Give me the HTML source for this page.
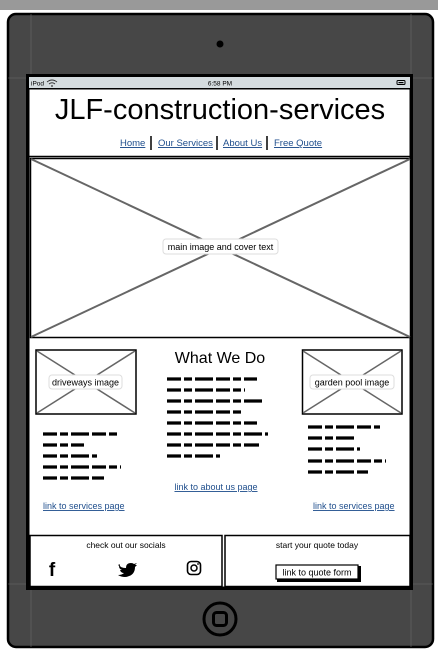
<!DOCTYPE html>
<html><head><meta charset="utf-8"><style>
html,body{margin:0;padding:0;background:#fff;width:438px;height:656px;overflow:hidden}
svg{display:block}
text{font-family:"Liberation Sans",sans-serif}
</style></head><body>
<svg width="438" height="656" viewBox="0 0 438 656" xmlns="http://www.w3.org/2000/svg">
<rect x="0" y="0" width="438" height="10" fill="#999"/>
<rect x="8" y="14" width="425" height="633" rx="8" fill="#474747" stroke="#000" stroke-width="2.5"/>
<circle cx="220" cy="44" r="3.5" fill="#000"/>
<line x1="31" y1="14" x2="31" y2="647" stroke="#6a6a6a" stroke-width="0.6"/>
<line x1="411" y1="14" x2="411" y2="647" stroke="#6a6a6a" stroke-width="0.6"/>
<line x1="8" y1="78" x2="433" y2="78" stroke="#6a6a6a" stroke-width="0.6"/>
<line x1="8" y1="584" x2="433" y2="584" stroke="#6a6a6a" stroke-width="0.6"/>
<rect x="26" y="74" width="387" height="516" fill="#000"/>
<rect x="29" y="77" width="381" height="11" fill="#d5dcdf"/>
<text x="31" y="85.5" font-size="6.5" fill="#000">iPod</text>
<path d="M47 82 q5 -4 10 0 M49 84 q3 -2.5 6 0" stroke="#333" stroke-width="0.9" fill="none"/>
<circle cx="52" cy="86" r="0.9" fill="#333"/>
<text x="220" y="85.5" font-size="6.5" text-anchor="middle">6:58 PM</text>
<rect x="397" y="80.5" width="8" height="4" rx="1" fill="none" stroke="#000" stroke-width="1"/>
<rect x="398.5" y="82" width="5" height="1.2" fill="#000"/>
<rect x="29" y="89" width="381" height="498" fill="#fff" stroke="#000" stroke-width="1"/>
<text x="220" y="119" font-size="29" text-anchor="middle">JLF-construction-services</text>
<g font-size="9.5" fill="#1f4e8c" text-decoration="underline">
<text x="120" y="146">Home</text>
<text x="158" y="146">Our Services</text>
<text x="223" y="146">About Us</text>
<text x="274" y="146">Free Quote</text>
</g>
<g stroke="#000" stroke-width="1.5">
<line x1="151" y1="136" x2="151" y2="150"/><line x1="217" y1="136" x2="217" y2="150"/><line x1="267" y1="136" x2="267" y2="150"/>
</g>
<line x1="29" y1="156.5" x2="410" y2="156.5" stroke="#000" stroke-width="1.5"/>
<rect x="30.5" y="158.5" width="380" height="179" fill="#fff" stroke="#000" stroke-width="1.5"/>
<line x1="31" y1="159" x2="410" y2="337" stroke="#666" stroke-width="2"/>
<line x1="410" y1="159" x2="31" y2="337" stroke="#666" stroke-width="2"/>
<rect x="163" y="239" width="115" height="15" rx="3" fill="#fff" stroke="#ddd"/>
<text x="220.5" y="250" font-size="9" text-anchor="middle">main image and cover text</text>
<rect x="36" y="350" width="100" height="64" fill="#fff" stroke="#000" stroke-width="1.5"/>
<line x1="37" y1="351" x2="135" y2="413" stroke="#666" stroke-width="1.5"/>
<line x1="135" y1="351" x2="37" y2="413" stroke="#666" stroke-width="1.5"/>
<rect x="49" y="375" width="73" height="14" rx="3" fill="#fff" stroke="#ddd"/>
<text x="85.5" y="385.5" font-size="9" text-anchor="middle">driveways image</text>
<rect x="302.5" y="350" width="99.5" height="64" fill="#fff" stroke="#000" stroke-width="1.5"/>
<line x1="303" y1="351" x2="401" y2="413" stroke="#666" stroke-width="1.5"/>
<line x1="401" y1="351" x2="303" y2="413" stroke="#666" stroke-width="1.5"/>
<rect x="310" y="375" width="84" height="14" rx="3" fill="#fff" stroke="#ddd"/>
<text x="352" y="385.5" font-size="9" text-anchor="middle">garden pool image</text>
<text x="220" y="363" font-size="16" text-anchor="middle">What We Do</text>
<g stroke="#000" stroke-width="3.2" stroke-dasharray="14 3 8 3 18 3" stroke-linecap="butt">
<line x1="43" y1="434" x2="118" y2="434"/><line x1="43" y1="445" x2="84" y2="445"/><line x1="43" y1="456" x2="97" y2="456"/><line x1="43" y1="467" x2="121" y2="467"/><line x1="43" y1="478" x2="104" y2="478"/>
<line x1="167" y1="379" x2="257" y2="379"/><line x1="167" y1="390" x2="245" y2="390"/><line x1="167" y1="401" x2="262" y2="401"/><line x1="167" y1="412" x2="243" y2="412"/><line x1="167" y1="423" x2="257" y2="423"/><line x1="167" y1="434" x2="268" y2="434"/><line x1="167" y1="445" x2="259" y2="445"/><line x1="167" y1="456" x2="220" y2="456"/>
<line x1="308" y1="427" x2="380" y2="427"/><line x1="308" y1="438" x2="354" y2="438"/><line x1="308" y1="449" x2="360" y2="449"/><line x1="308" y1="461" x2="386" y2="461"/><line x1="308" y1="472" x2="368" y2="472"/>
</g>
<g font-size="9" fill="#1f4e8c" text-decoration="underline">
<text x="216" y="490" text-anchor="middle">link to about us page</text>
<text x="43" y="509">link to services page</text>
<text x="313" y="509">link to services page</text>
</g>
<rect x="30" y="535.5" width="192" height="51" fill="#fff" stroke="#000" stroke-width="1.5"/>
<rect x="225" y="535.5" width="185" height="51" fill="#fff" stroke="#000" stroke-width="1.5"/>
<text x="126" y="548" font-size="8.5" text-anchor="middle">check out our socials</text>
<text x="317" y="548" font-size="8.5" text-anchor="middle">start your quote today</text>
<text x="52" y="576" font-size="19" font-weight="bold" text-anchor="middle">f</text>
<path d="M118 565 q3 3 8 3 q0 -5 5 -5 q2 0 3 1 l3 -1 l-2 2 l2 0 l-2 2 q0 9 -10 10 q-4 0 -7 -2 q4 0 6 -2 q-3 0 -4 -3 l2 0 q-3 -1 -3 -4 l2 1 q-2 -2 -1 -3z" fill="#000"/>
<rect x="187.5" y="561.5" width="13" height="13" rx="3.5" fill="none" stroke="#000" stroke-width="1.6"/>
<circle cx="194" cy="568" r="3" fill="none" stroke="#000" stroke-width="1.5"/>
<circle cx="198" cy="564" r="0.9" fill="#000"/>
<rect x="277" y="566" width="84" height="16" fill="#000"/>
<rect x="276" y="565" width="82" height="14" fill="#fff" stroke="#000" stroke-width="1.2"/>
<text x="317" y="575.5" font-size="9" text-anchor="middle">link to quote form</text>
<circle cx="220" cy="619" r="16" fill="none" stroke="#000" stroke-width="3"/>
<rect x="213.5" y="612.5" width="13" height="13" rx="3" fill="none" stroke="#000" stroke-width="3"/>
</svg>
</body></html>
